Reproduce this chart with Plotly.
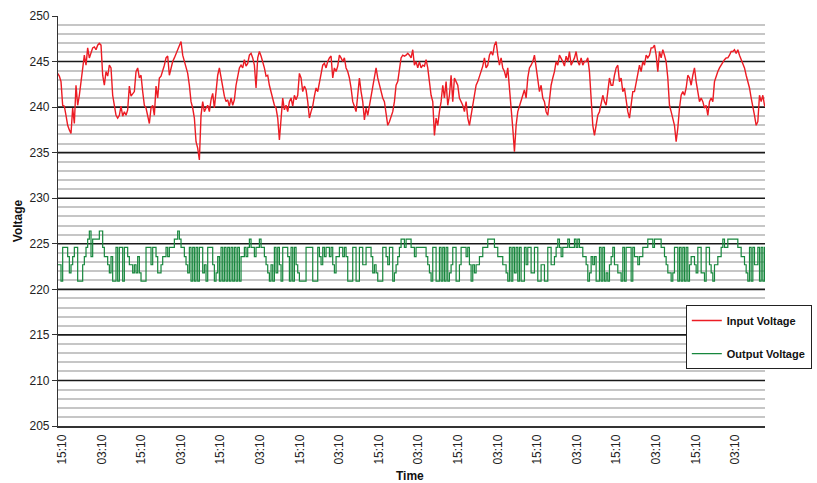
import numpy as np
import pandas as pd
import plotly.graph_objects as go

# ---------------- data ----------------
# samples roughly every 30 min, first sample shortly before the first 15:10 tick
START_TIME = "2008-05-01 13:21"
SAMPLE_SECONDS = 1818

input_voltage = [
    243.7, 243.7, 243.4, 242.8, 240.2, 240.1, 239.1, 238.0, 237.5, 237.1,
    239.9, 238.2, 242.4, 240.2, 241.3, 242.8, 243.9, 245.7, 244.6, 246.5,
    245.4, 246.1, 246.5, 246.6, 246.3, 246.8, 247.0, 246.8, 243.5, 242.4,
    243.9, 243.4, 244.6, 244.3, 241.3, 240.2, 239.1, 238.8, 239.1, 240.1,
    239.0, 239.5, 239.1, 239.7, 242.3, 241.2, 241.5, 241.7, 243.9, 244.3,
    243.2, 243.5, 241.7, 240.2, 239.9, 238.8, 238.2, 239.9, 240.2, 239.1,
    242.3, 241.0, 243.2, 243.4, 243.9, 244.6, 245.4, 245.6, 243.5, 244.3,
    245.0, 245.4, 245.9, 246.3, 246.8, 247.2, 245.7, 245.0, 244.3, 243.7,
    242.4, 240.6, 239.9, 238.8, 236.2, 235.5, 234.2, 239.1, 240.6, 239.5,
    239.9, 240.2, 239.5, 240.8, 241.5, 239.9, 241.7, 243.5, 244.3, 243.2,
    242.4, 241.2, 240.6, 240.8, 240.1, 241.0,
    240.2, 240.8, 242.4, 243.2, 244.3, 244.6, 244.3, 245.2, 244.5, 244.8,
    245.7, 245.9, 245.4, 244.6, 242.1, 245.4, 246.1, 245.6, 245.0, 244.3,
    243.4, 243.5, 242.4, 241.7, 241.0, 240.2, 239.9, 238.8, 236.4, 238.4,
    241.0, 239.7, 240.2, 239.5, 240.6, 241.0, 240.1, 241.3, 240.8, 241.3,
    243.7, 243.2, 241.7, 242.3, 241.9, 240.6, 238.8, 239.5, 240.1, 241.2,
    242.1, 241.7, 242.8, 243.9, 244.6, 244.8, 244.3, 245.0, 245.4, 245.6,
    243.2, 244.3, 243.9, 244.5, 245.7, 245.4, 245.0, 245.4, 244.3, 243.9,
    243.2, 242.1, 240.6, 240.1, 239.5, 241.3, 243.2, 241.7, 240.6, 238.6,
    239.9, 239.1, 240.2, 241.0, 242.3, 243.5, 244.3, 243.2, 242.4, 241.5,
    241.0, 240.6, 239.1, 238.0, 238.4, 239.1, 239.5, 240.6, 242.4, 242.8,
    243.9, 245.4, 245.7, 245.6, 245.7, 245.9,
    245.7, 245.4, 246.3, 244.6, 245.0, 244.3, 245.0, 244.3, 244.6, 244.5,
    245.2, 244.3, 242.8, 241.3, 240.6, 236.9, 238.8, 238.0, 239.5, 240.6,
    242.4, 241.0, 242.8, 240.2, 241.3, 243.5, 240.6, 243.2, 242.8, 242.4,
    241.0, 240.6, 240.2, 239.5, 240.6, 238.8, 238.0, 239.1, 240.2, 241.7,
    242.4, 242.8, 243.4, 243.9, 244.5, 245.4, 244.3, 244.6, 245.7, 246.1,
    245.7, 246.8, 247.2, 245.7, 244.6, 245.4, 244.3, 243.9, 243.2, 244.3,
    242.1, 240.6, 237.7, 235.1, 238.0, 239.5, 240.2, 240.6, 241.3, 241.9,
    241.0, 243.2, 244.3, 244.6, 245.0, 245.7, 244.3, 243.2, 241.7, 242.4,
    241.0, 240.6, 239.5, 239.1, 240.6, 242.4, 243.2, 243.9, 245.0, 244.6,
    245.7, 245.4, 245.0, 244.5, 245.6, 245.0, 246.1, 244.6, 245.0, 245.4,
    246.1, 245.0, 244.6, 245.4, 244.6, 245.0,
    245.0, 245.4, 243.9, 241.0, 238.0, 236.9, 238.0, 239.1, 239.5, 240.6,
    241.3, 240.6, 240.2, 241.7, 243.2, 242.4, 242.4, 243.5, 244.3, 244.6,
    242.8, 243.2, 241.7, 242.1, 240.6, 239.5, 238.8, 240.6, 241.7, 241.7,
    242.8, 243.5, 244.6, 243.9, 245.0, 244.6, 245.7, 245.4, 245.7, 246.5,
    246.5, 246.8, 245.7, 243.9, 246.1, 245.4, 246.3, 245.7, 245.0, 243.2,
    240.2, 239.5, 238.8, 238.0, 236.2, 237.7, 239.9, 241.3, 241.7, 241.3,
    242.1, 243.5, 243.2, 242.4, 243.5, 244.3, 242.8, 241.7, 240.6, 241.0,
    240.6, 239.9, 240.2, 239.1, 240.6, 241.0, 240.6, 242.8, 243.5, 243.9,
    244.3, 244.6, 245.0, 245.2, 245.4, 245.4, 245.7, 246.1, 246.1, 246.3,
    245.9, 246.3, 245.7, 245.2, 244.6, 244.3, 243.5, 242.8, 242.1, 241.0,
    240.2, 239.1, 238.0, 238.4, 241.3, 240.6, 241.3, 240.2, 239.9,
]

output_voltage = [
    222.7, 222.7, 222.7, 220.9, 224.6, 224.6, 224.6, 223.6, 221.8, 222.7,
    223.6, 224.6, 224.6, 220.9, 220.9, 220.9, 222.7, 223.6, 224.6, 225.5,
    226.4, 223.6, 225.5, 225.5, 225.5, 225.5, 226.4, 226.4, 224.6, 223.6,
    223.6, 222.7, 221.8, 223.6, 220.9, 220.9, 224.6, 220.9, 224.6, 224.6,
    220.9, 224.6, 224.6, 223.6, 222.7, 222.7, 221.8, 222.7, 221.8, 223.6,
    221.8, 220.9, 220.9, 220.9, 224.6, 224.6, 224.6, 222.7, 224.6, 224.6,
    223.6, 221.8, 221.8, 222.7, 223.6, 223.6, 224.6, 223.6, 224.6, 224.6,
    224.6, 225.5, 225.5, 226.4, 225.5, 224.6, 224.6, 223.6, 222.7, 221.8,
    224.6, 220.9, 224.6, 220.9, 224.6, 220.9, 224.6, 224.6, 221.8, 222.7,
    220.9, 224.6, 224.6, 224.6, 222.7, 220.9, 221.8, 223.6, 220.9, 224.6,
    220.9, 224.6, 220.9, 224.6, 220.9, 224.6, 220.9, 224.6, 220.9, 224.6,
    220.9, 223.6, 223.6, 224.6, 223.6, 224.6, 225.5, 224.6, 224.6, 223.6,
    224.6, 224.6, 225.5, 224.6, 224.6, 223.6, 222.7, 221.8, 220.9, 222.7,
    220.9, 224.6, 221.8, 224.6, 222.7, 220.9, 224.6, 224.6, 224.6, 223.6,
    220.9, 224.6, 220.9, 224.6, 222.7, 221.8, 220.9,
    220.9, 220.9, 220.9, 224.6, 224.6, 224.6, 224.6, 220.9, 220.9, 220.9,
    224.6, 223.6, 222.7, 224.6, 223.6, 224.6, 224.6, 223.6, 224.6, 222.7,
    221.8, 223.6, 223.6, 224.6, 224.6, 223.6, 224.6, 223.6, 220.9, 220.9,
    220.9, 224.6, 224.6, 220.9, 220.9, 224.6, 224.6, 222.7, 222.7, 224.6,
    224.6, 224.6, 223.6, 221.8, 222.7, 221.8, 220.9, 220.9, 220.9, 224.6,
    224.6, 223.6, 222.7, 224.6, 224.6, 220.9, 221.8, 222.7, 223.6, 224.6,
    225.5, 225.5, 224.6, 225.5, 225.5, 225.5, 224.6, 224.6, 223.6, 224.6,
    224.6, 224.6, 224.6, 224.6, 224.6, 223.6, 222.7, 221.8, 220.9, 224.6,
    224.6, 220.9, 220.9, 224.6, 220.9, 224.6, 220.9, 224.6, 220.9, 221.8,
    222.7, 224.6, 224.6, 220.9, 220.9, 222.7, 224.6, 224.6, 224.6, 223.6,
    224.6, 222.7, 220.9, 222.7, 221.8, 222.7, 222.7, 223.6, 223.6, 224.6,
    224.6, 224.6, 225.5, 225.5, 225.5, 225.5, 224.6, 224.6, 223.6, 223.6,
    223.6, 222.7, 222.7, 221.8, 220.9, 224.6, 220.9, 224.6, 221.8, 224.6,
    220.9, 224.6, 220.9, 220.9, 224.6, 222.7, 224.6, 224.6, 221.8, 221.8,
    224.6, 224.6, 220.9, 220.9, 222.7, 222.7, 220.9, 220.9, 224.6, 224.6,
    222.7, 222.7, 223.6, 224.6, 225.5, 224.6, 223.6, 224.6, 224.6, 224.6,
    225.5, 224.6, 224.6, 224.6, 225.5, 224.6, 225.5, 224.6, 224.6, 223.6,
    223.6, 222.7, 220.9, 221.8, 223.6, 222.7, 223.6, 220.9, 220.9, 224.6,
    220.9, 224.6, 220.9, 221.8, 220.9, 222.7, 223.6, 224.6, 222.7, 222.7,
    221.8, 221.8, 220.9, 224.6, 220.9, 224.6, 224.6, 224.6, 220.9, 224.6,
    223.6, 223.6, 222.7, 223.6, 223.6, 224.6, 224.6, 224.6, 225.5, 225.5,
    225.5, 224.6, 225.5, 225.5, 225.5, 225.5, 224.6, 224.6, 223.6, 222.7,
    221.8, 221.8, 220.9, 221.8, 224.6, 224.6, 220.9, 224.6, 220.9, 224.6,
    220.9, 224.6, 220.9, 222.7, 223.6, 223.6, 222.7, 221.8, 224.6, 224.6,
    221.8, 221.8, 220.9, 224.6, 224.6, 222.7, 221.8, 220.9, 222.7, 222.7,
    223.6, 223.6, 224.6, 225.5, 224.6, 224.6, 225.5, 225.5, 225.5, 225.5,
    225.5, 225.5, 224.6, 224.6, 223.6, 223.6, 222.7, 221.8, 220.9, 224.6,
    220.9, 224.6, 222.7, 222.7, 224.6, 220.9, 224.6, 220.9, 224.6, 220.9,
]

SERIES_NAMES = ["Input Voltage", "Output Voltage"]
SERIES_COLORS = ["#ec1c24", "#17873d"]
FIRST_TICK = "2008-05-01 15:10"   # ticks every 12 h -> labels 15:10 / 03:10
Y_RANGE = [205, 250]

# ---------------- figure ----------------
n = len(input_voltage)
step = pd.Timedelta(seconds=SAMPLE_SECONDS)
times = pd.Timestamp(START_TIME) + np.arange(n) * step
x_lo = pd.Timestamp(START_TIME) + 1.2 * step
x_hi = pd.Timestamp(START_TIME) + 425.3 * step

FONT = "Liberation Sans, Arial, sans-serif"

fig = go.Figure()
fig.add_trace(go.Scatter(
    x=times, y=input_voltage, mode="lines", name=SERIES_NAMES[0],
    line=dict(color=SERIES_COLORS[0], width=1.4), legendgroup="a"))
fig.add_trace(go.Scatter(
    x=times[:len(output_voltage)], y=output_voltage, mode="lines", name=SERIES_NAMES[1],
    line=dict(color=SERIES_COLORS[1], width=1.2, shape="hv"), legendgroup="b"))

# heavy black lines every 5 V (inside the range)
shapes = []
for v in range(Y_RANGE[0] + 5, Y_RANGE[1], 5):
    shapes.append(dict(type="line", xref="paper", x0=0, x1=1, yref="y", y0=v, y1=v,
                       line=dict(color="#1a1a1a", width=1.6), layer="below"))

fig.update_layout(
    width=817, height=483,
    margin=dict(l=58, r=52, t=16, b=57, autoexpand=False),
    paper_bgcolor="white", plot_bgcolor="white",
    font=dict(family=FONT, color="#222222"),
    shapes=shapes,
    showlegend=True,
    legend=dict(x=0.888, y=0.295, xanchor="left", yanchor="top",
                bgcolor="white", bordercolor="#222222", borderwidth=1,
                font=dict(family=FONT, size=11, color="#111111", weight="bold"),
                tracegroupgap=14, itemwidth=30),
    annotations=[
        dict(text="<b>Voltage</b>", x=-0.0566, y=0.502, xref="paper", yref="paper",
             xanchor="center", yanchor="middle",
             textangle=-90, showarrow=False, font=dict(size=12, color="#111111")),
        dict(text="<b>Time</b>", x=0.498, y=-0.122, xref="paper", yref="paper",
             xanchor="center", yanchor="middle",
             showarrow=False, font=dict(size=12, color="#111111")),
    ],
)

fig.update_xaxes(
    type="date", range=[x_lo, x_hi], automargin=False,
    tickmode="linear", tick0=FIRST_TICK, dtick=12 * 3600 * 1000,
    tickformat="%H:%M", tickangle=-90,
    tickfont=dict(size=12, color="#222222"),
    showgrid=False, zeroline=False,
    showline=True, linecolor="#333333", linewidth=1.5,
    ticks="", ticklabelstandoff=2,
)
fig.update_yaxes(
    range=Y_RANGE, tickmode="linear", tick0=205, dtick=5, automargin=False,
    tickfont=dict(size=12, color="#222222"),
    showgrid=False, zeroline=False,
    showline=True, linecolor="#333333", linewidth=1.2,
    ticks="outside", ticklen=5, tickcolor="#333333",
    minor=dict(dtick=1, tick0=205, showgrid=True, gridcolor="#c6c6c6", gridwidth=1.5, ticks=""),
)

fig.write_html("out.html",
               config={"displayModeBar": False},
               post_script="document.body.style.margin='0';document.body.style.overflow='hidden';")
